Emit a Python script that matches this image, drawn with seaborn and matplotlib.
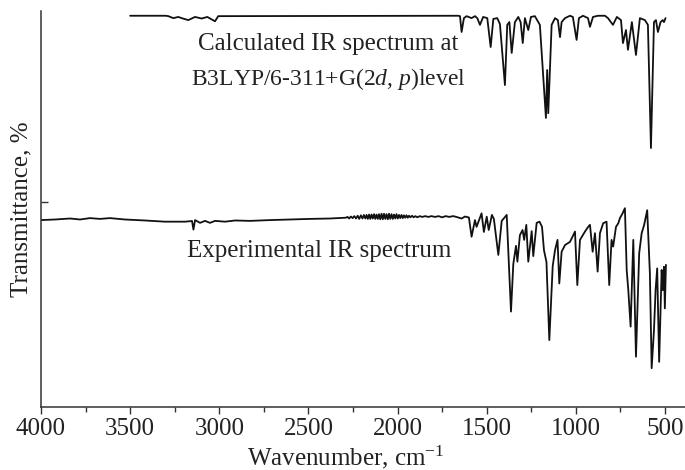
import pandas as pd
import seaborn as sns
import matplotlib.pyplot as plt

# Spectra (wavenumber in cm-1, transmittance in arbitrary offset %)
calc_wn = [3500, 3300, 3286, 3258, 3230, 3211, 3174, 3136, 3099, 3067, 3024, 3006,
           1660, 1650, 1641, 1628, 1613, 1585, 1566, 1553, 1538, 1520, 1497, 1478,
           1463, 1441, 1426, 1398, 1385, 1373, 1360, 1342, 1323, 1310, 1298, 1286,
           1267, 1252, 1230, 1202, 1168, 1161, 1155, 1136, 1117, 1101, 1089, 1080,
           1061, 1033, 1017, 996, 983, 960, 932, 921, 904, 876, 837, 820, 792, 770,
           747, 736, 719, 708, 686, 663, 641, 613, 596, 579, 562, 551, 540, 525,
           513, 506, 497]
calc_t = [98.8, 98.8, 98.7, 98.2, 98.5, 98.2, 97.7, 98.5, 98.1, 98.5, 97.4, 98.7,
          98.8, 98.7, 94.7, 98.2, 98.7, 98.2, 98.7, 98.2, 96.5, 98.5, 98.2, 90.9,
          98.0, 98.2, 96.7, 81.3, 96.5, 97.2, 89.4, 97.2, 98.5, 97.2, 91.9, 98.2,
          95.2, 98.5, 98.7, 96.5, 73.0, 85.1, 74.2, 96.5, 98.2, 97.7, 93.4, 97.2,
          98.2, 98.8, 98.5, 92.7, 98.2, 98.8, 98.2, 96.0, 98.5, 98.8, 98.8, 98.2,
          96.5, 98.5, 97.7, 91.9, 95.2, 90.2, 97.2, 88.9, 98.2, 97.7, 96.5, 65.4,
          97.2, 97.7, 94.7, 97.2, 97.7, 97.2, 98.2]

exp_wn = [4000, 3921, 3837, 3781, 3725, 3669, 3613, 3529, 3417, 3305, 3192, 3153,
          3145, 3136, 3108, 3080, 3052, 3024, 2968, 2912, 2828, 2716, 2604, 2491,
          2379, 2290, 2281, 2272, 2262, 2252, 2243, 2233, 2224, 2215, 2206, 2197,
          2189, 2181, 2174, 2167, 2160, 2153, 2146, 2139, 2132, 2125, 2118, 2111,
          2104, 2097, 2090, 2083, 2076, 2069, 2062, 2055, 2048, 2041, 2034, 2027,
          2020, 2013, 2006, 1999, 1992, 1985, 1978, 1971, 1964, 1957, 1950, 1943,
          1936, 1928, 1919, 1910, 1900, 1889, 1876, 1862, 1845, 1828, 1810,
          1790, 1770, 1750, 1730, 1710, 1690, 1678,
          1641, 1622, 1600, 1585, 1566, 1557, 1529, 1516, 1500, 1489, 1471, 1460,
          1435, 1416, 1388, 1364, 1351, 1336, 1328, 1314, 1299, 1290, 1278, 1267,
          1248, 1239, 1220, 1204, 1190, 1179, 1165, 1149, 1130, 1117, 1103, 1093,
          1080, 1061, 1033, 1005, 992, 977, 949, 931, 921, 906, 893, 878, 865, 847,
          828, 813, 800, 791, 775, 762, 753, 738, 725, 715, 706, 693, 678, 663,
          645, 631, 617, 600, 585, 575, 562, 553, 544, 533, 519, 513, 506, 501, 495]
exp_t = [47.2, 47.35, 47.6, 47.35, 47.7, 47.5, 47.7, 47.35, 47.1, 46.8, 46.8, 46.97,
         44.8, 47.2, 46.5, 47.0, 46.5, 47.0, 46.8, 47.1, 47.0, 47.2, 47.35, 47.5,
         47.6, 47.8, 48.0, 47.6, 48.1, 47.7, 48.2, 47.6, 48.3, 47.5, 48.4, 47.6,
         48.5, 47.6, 48.5, 47.5, 48.6, 47.5, 48.6, 47.6, 48.7, 47.5, 48.6, 47.5,
         48.7, 47.4, 48.8, 47.4, 48.8, 47.5, 48.7, 47.4, 48.8, 47.5, 48.7, 47.5,
         48.6, 47.6, 48.7, 47.6, 48.5, 47.7, 48.5, 47.7, 48.4, 47.8, 48.4, 47.8,
         48.3, 47.9, 48.3, 47.9, 48.2, 47.9, 48.2, 48.0, 48.2, 48.0, 48.2,
         48.0, 48.2, 47.9, 48.2, 48.0, 48.2, 48.1,
         47.6, 48.1, 47.85, 43.0, 47.2, 45.5, 48.9, 44.2, 48.06, 44.7, 48.5, 47.5,
         38.4, 47.0, 48.5, 24.1, 36.1, 40.7, 36.7, 43.4, 44.7, 42.2, 46.0, 36.7,
         44.4, 38.1, 46.5, 46.8, 45.5, 39.6, 36.6, 16.9, 35.6, 39.6, 42.2, 31.2,
         39.2, 40.9, 41.7, 44.3, 30.8, 42.2, 44.3, 45.5, 46.0, 39.2, 43.9, 34.2,
         43.9, 46.4, 46.8, 30.8, 42.2, 40.5, 45.5, 46.4, 47.7, 48.9, 50.2, 34.6,
         29.5, 20.3, 42.2, 12.7, 38.8, 43.9, 46.0, 49.7, 33.8, 9.8, 19.4, 29.5,
         35.0, 11.4, 34.6, 29.5, 35.4, 24.9, 35.9]

major_ticks = [4000, 3500, 3000, 2500, 2000, 1500, 1000, 500]
minor_ticks = [3750, 3250, 2750, 2250, 1750, 1250, 750]

calc = pd.DataFrame({"wavenumber": calc_wn, "T": calc_t})
expt = pd.DataFrame({"wavenumber": exp_wn, "T": exp_t})

sns.set_style("ticks")
plt.rcParams["font.family"] = ["Liberation Serif", "DejaVu Serif"]
plt.rcParams["mathtext.fontset"] = "custom"
plt.rcParams["mathtext.rm"] = "Liberation Serif"
plt.rcParams["mathtext.it"] = "Liberation Serif:italic"

fig = plt.figure(figsize=(6.85, 4.7), dpi=100)
ax = fig.add_axes([41 / 685, 63 / 470, 644 / 685, 396 / 470])

line_kw = dict(sort=False, estimator=None, color="#111111", linewidth=1.3, ax=ax)
sns.lineplot(data=calc, x="wavenumber", y="T", **line_kw)
sns.lineplot(data=expt, x="wavenumber", y="T", **line_kw)

ax.set_xlim(4000, 388)
ax.set_ylim(0, 100)
ax.set_xticks(major_ticks)
ax.set_xticklabels([str(t) for t in major_ticks])
ax.set_xticks(minor_ticks, minor=True)
ax.set_yticks([51.8])
ax.set_yticklabels([])
ax.tick_params(axis="x", which="major", direction="out", length=5, width=1.0,
               labelsize=18, pad=3, color="#333333", labelcolor="#222222")
ax.tick_params(axis="x", which="minor", direction="out", length=3.5, width=1.0,
               color="#333333")
ax.tick_params(axis="y", direction="in", length=5, width=1.0, color="#333333")

for side in ["top", "right"]:
    ax.spines[side].set_visible(False)
for side in ["left", "bottom"]:
    ax.spines[side].set_linewidth(1.1)
    ax.spines[side].set_color("#333333")

ax.set_xlabel("Wavenumber, cm$^{-1}$", fontsize=18, color="#222222")
ax.set_ylabel("Transmittance, %", fontsize=18, color="#222222")
ax.xaxis.set_label_coords((346 - 41) / 644, -0.092)
ax.yaxis.set_label_coords(-0.014, 0.5)

ax.text(2390, 91.6, "Calculated IR spectrum at", fontsize=18,
        ha="center", va="center", color="#222222")
ax.text(2390, 82.9, "B3LYP/6-311+G(2$d$, $p$)level", fontsize=17,
        ha="center", va="center", color="#222222")
ax.text(2441, 39.4, "Experimental IR spectrum", fontsize=18,
        ha="center", va="center", color="#222222")

plt.savefig("out.png", dpi=100)
